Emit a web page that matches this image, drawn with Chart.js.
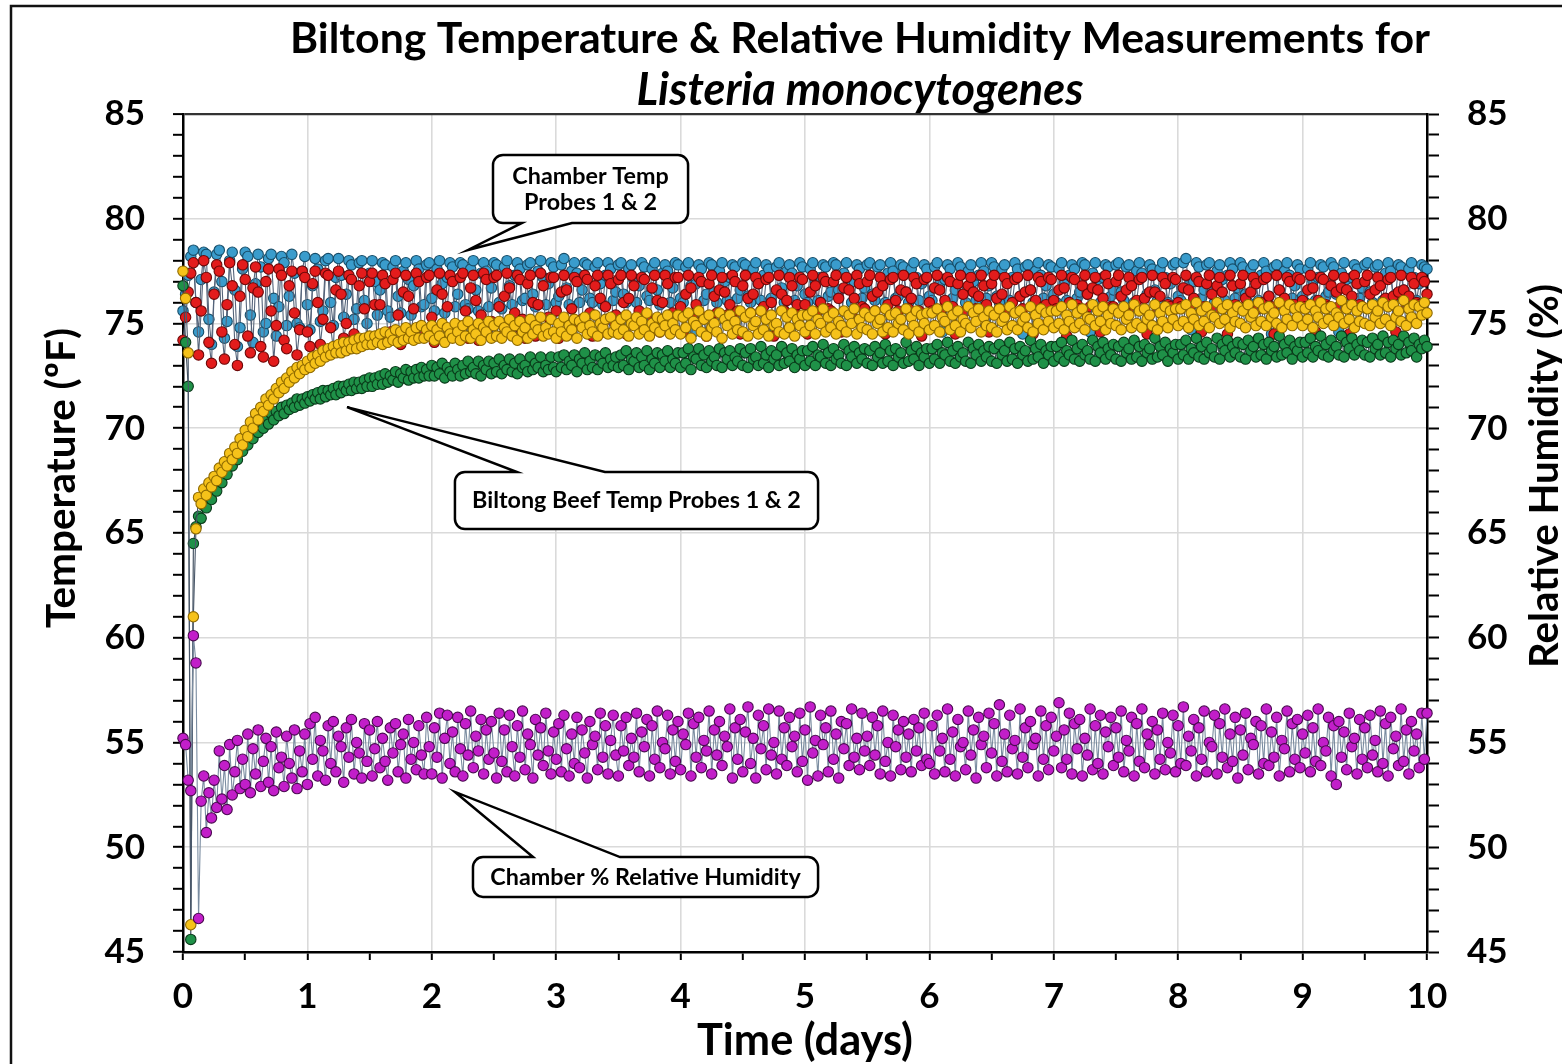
<!DOCTYPE html>
<html>
<head>
<meta charset="utf-8">
<script src="https://cdn.jsdelivr.net/npm/chart.js@4.4.1/dist/chart.umd.min.js"></script>
<style>
  html, body { margin: 0; padding: 0; background: #fff; }
  #wrap { width: 1562px; height: 1064px; position: relative; }
</style>
</head>
<body>
<div id="wrap"><canvas id="c" width="1562" height="1064"></canvas></div>
<script>
// ---------------- DATA (samples every 30 min, t = index / 48 days) ----------------
const SAMPLE_INTERVAL_DAYS = 1 / 48;
const dayTicks = [0, 1, 2, 3, 4, 5, 6, 7, 8, 9, 10];
const tempTicks = [45, 50, 55, 60, 65, 70, 75, 80, 85];

const chamberProbe1 = [
  75.6,76.4,77.3,78.2,78.5,76.0,74.6,77.1,78.4,78.3,75.2,74.0,76.5,78.3,78.5,77.0,74.3,75.1,78.0,78.4,76.6,73.9,74.8,77.6,
  78.4,78.2,75.4,74.1,76.9,78.3,77.7,74.6,75.0,78.1,78.3,76.2,74.4,75.8,78.2,77.9,74.9,76.3,78.3,77.4,75.0,74.8,77.5,78.2,
  75.9,74.7,76.8,78.1,77.6,75.1,75.6,78.0,78.1,76.0,74.9,77.2,78.1,77.3,75.3,76.4,78.0,77.8,75.2,75.7,77.9,78.0,76.1,75.0,
  77.4,78.0,77.0,75.4,76.6,77.9,77.8,75.6,75.3,77.7,78.0,76.3,75.5,77.5,77.9,77.1,75.4,76.8,78.0,77.6,75.8,75.9,77.8,77.9,
  76.2,75.6,77.6,78.0,76.9,75.5,77.2,77.9,77.7,75.8,76.4,77.9,77.8,75.9,75.7,77.6,78.0,76.6,75.6,77.4,77.9,77.5,75.8,76.7,
  77.9,77.8,76.0,75.7,77.7,78.0,76.8,75.9,77.3,77.9,77.6,76.1,76.2,77.8,77.9,76.4,75.8,77.5,78.0,77.2,75.9,76.9,77.9,77.7,
  76.0,76.3,77.8,78.1,76.7,75.9,77.5,77.9,77.4,76.0,76.6,77.9,77.8,76.2,76.0,77.7,77.9,76.9,75.9,77.3,77.9,77.6,76.1,76.5,
  77.8,77.9,76.4,76.0,77.6,77.8,77.1,76.0,76.8,77.9,77.7,76.3,76.1,77.6,77.9,76.6,75.9,77.4,77.8,77.5,76.0,76.7,77.9,77.8,
  76.2,76.0,77.7,77.9,76.8,74.6,76.9,77.8,77.6,76.1,76.4,77.9,77.8,76.5,76.0,77.5,77.9,77.0,76.1,77.2,77.8,77.7,76.2,76.6,
  77.9,77.8,76.3,76.0,77.6,77.9,76.9,76.1,77.3,77.8,77.6,76.2,74.5,77.7,77.9,76.7,76.0,77.5,77.8,77.4,76.1,76.8,77.9,77.7,
  76.4,76.0,77.6,77.9,77.0,76.1,77.2,77.8,77.7,76.3,76.5,77.9,77.8,76.6,74.7,77.4,77.9,77.1,76.0,77.0,77.8,77.6,76.2,76.7,
  77.8,77.9,76.4,76.1,77.7,77.8,76.8,76.0,77.4,77.9,77.5,76.2,76.3,77.8,77.7,76.5,76.0,77.6,77.9,77.2,76.1,76.9,77.8,77.6,
  76.3,76.1,77.7,77.9,76.9,74.6,77.1,77.8,77.6,76.2,76.6,77.9,77.7,76.4,76.0,77.5,77.8,77.0,76.1,77.3,77.9,77.5,76.2,76.8,
  77.9,77.7,76.3,76.0,77.6,77.8,77.0,76.1,77.2,77.9,77.6,76.3,74.5,77.7,77.8,76.6,76.0,77.5,77.9,77.3,76.2,76.8,77.8,77.7,
  76.4,76.0,77.6,77.9,76.9,76.1,77.3,77.8,77.6,76.2,76.5,77.9,77.8,76.4,74.6,77.4,77.9,77.1,76.0,77.2,77.8,77.7,76.3,76.6,
  77.8,77.9,76.5,76.1,77.7,77.8,76.8,76.0,77.5,77.9,77.4,76.2,76.4,77.8,77.6,76.6,76.1,77.6,77.9,77.2,76.0,76.9,77.8,77.9,
  76.3,76.1,77.9,78.1,76.8,74.7,77.0,77.9,77.7,76.2,76.6,77.8,77.9,76.5,76.0,77.5,77.8,77.1,76.1,77.3,77.9,77.6,76.2,76.7,
  77.9,77.7,76.4,76.0,77.6,77.8,76.9,76.1,77.3,77.9,77.5,76.3,74.5,77.7,77.8,76.6,76.0,77.5,77.9,77.3,76.2,76.8,77.8,77.6,
  76.3,76.0,77.6,77.9,77.0,76.1,77.2,77.8,77.7,76.3,76.5,77.9,77.7,76.4,74.6,77.4,77.9,77.1,76.0,77.2,77.8,77.6,76.2,76.7,
  77.8,77.9,76.5,76.0,77.7,77.8,76.8,76.1,77.4,77.9,77.5,76.2,76.4,77.8,77.7,76.6,76.0,77.6,77.9,77.2,76.1,76.9,77.8,77.7,
  77.6
];

const chamberProbe2 = [
  74.2,75.3,76.5,77.4,77.9,76.0,73.5,75.6,78.0,77.2,74.1,73.1,76.4,77.8,77.5,74.6,73.3,75.9,77.9,76.8,74.0,73.0,76.3,77.8,
  77.1,74.4,73.6,76.7,77.7,76.5,73.9,73.4,77.0,77.6,75.6,73.2,74.9,77.6,77.3,74.2,73.8,76.8,77.5,75.5,73.5,74.7,77.5,77.2,
  74.6,73.9,76.9,77.5,76.0,74.0,75.2,77.4,77.3,74.8,73.8,76.6,77.5,76.4,74.3,75.0,77.3,77.1,74.5,74.1,76.8,77.4,75.7,74.2,
  77.0,77.4,75.9,74.2,75.9,77.3,76.9,74.4,74.6,77.1,77.4,75.4,74.0,76.5,77.3,76.3,74.3,75.7,77.4,77.0,74.7,74.5,77.2,77.3,
  75.3,74.1,76.6,77.4,76.4,74.2,75.8,77.3,77.0,74.6,74.9,77.2,77.4,75.6,74.3,76.7,77.3,76.1,74.2,75.4,77.4,77.1,74.8,75.1,
  77.2,77.3,75.8,74.4,76.3,77.4,76.7,74.5,75.5,77.3,77.1,75.2,74.3,76.9,77.3,76.0,74.4,75.9,77.4,76.8,74.6,75.3,77.2,77.2,
  75.6,74.3,76.5,77.3,76.6,74.5,75.7,77.2,77.0,75.0,75.2,77.3,77.1,75.5,74.4,76.8,77.3,76.2,74.6,75.8,77.3,76.9,75.1,75.4,
  77.1,77.3,76.0,74.5,76.2,77.3,76.8,75.0,75.6,77.2,77.1,75.4,74.5,76.7,77.3,76.1,74.6,76.0,77.3,76.9,75.0,75.5,77.2,77.2,
  75.8,74.6,76.4,77.3,76.7,75.2,75.9,77.2,77.0,75.3,74.4,76.9,77.3,76.3,75.5,76.6,77.2,76.5,75.4,75.9,77.3,77.0,75.6,74.5,
  76.8,77.3,76.2,75.5,76.4,77.2,76.9,75.6,75.8,77.1,77.2,76.0,74.4,76.6,77.3,76.4,75.6,76.1,77.2,76.8,75.5,75.9,77.2,77.1,
  75.9,74.5,76.5,77.3,76.8,75.6,76.0,77.2,77.0,75.7,75.6,77.0,77.3,76.2,74.6,76.7,77.2,76.6,75.5,76.2,77.3,76.9,75.8,75.7,
  77.0,77.3,76.3,75.6,76.5,77.2,76.8,74.5,75.9,77.1,77.2,76.1,75.6,76.6,77.3,76.5,75.7,76.2,77.2,76.9,75.6,74.4,77.1,77.2,
  76.0,75.6,76.7,77.3,76.6,75.7,76.1,77.2,77.0,75.8,74.5,76.9,77.3,76.4,75.6,76.8,77.2,76.5,75.7,76.3,77.3,76.8,75.9,74.6,
  76.9,77.3,76.2,75.7,76.4,77.2,76.9,75.6,76.0,77.1,77.2,76.3,75.7,76.5,77.3,76.6,74.5,76.1,77.2,77.0,75.8,75.9,77.2,77.1,
  76.1,75.7,76.6,77.3,76.7,74.4,76.0,77.2,77.1,75.9,75.7,76.8,77.3,76.4,75.8,76.7,77.2,76.6,74.6,76.2,77.3,76.9,75.8,75.8,
  77.0,77.3,76.3,75.7,76.6,77.2,76.8,75.8,76.1,77.1,77.2,76.2,74.5,76.5,77.3,76.5,75.7,76.3,77.2,76.9,75.9,75.8,77.2,77.1,
  76.0,75.8,76.7,77.3,76.6,75.9,76.2,77.2,77.0,74.6,75.8,76.9,77.3,76.4,75.7,76.8,77.2,76.5,75.8,74.5,77.3,76.8,75.9,75.8,
  76.9,77.3,76.2,75.8,76.5,77.2,76.9,75.7,76.0,77.1,77.2,76.3,75.8,74.5,77.3,76.6,75.8,76.2,77.2,77.0,75.9,75.9,77.2,77.1,
  76.1,75.8,76.6,77.3,76.7,74.6,76.1,77.2,77.1,75.9,75.8,76.8,77.3,76.5,75.8,76.7,77.2,76.6,74.5,76.3,77.3,76.9,75.9,75.8,
  77.0,77.3,76.4,75.8,76.6,77.2,76.8,75.9,76.2,77.1,77.2,76.3,74.6,76.5,77.3,76.6,75.9,76.3,77.2,76.9,76.0,75.9,77.2,77.0,
  76.4
];

const beefProbe1 = [
  77.5,76.2,73.6,46.3,61.0,65.2,66.7,66.4,67.1,66.8,67.4,67.2,67.7,67.5,68.1,67.9,68.4,68.2,68.8,68.5,69.1,68.8,69.5,69.2,
  69.9,69.6,70.3,70.0,70.7,70.4,71.0,70.8,71.4,71.1,71.6,71.4,71.9,71.7,72.2,71.9,72.4,72.2,72.7,72.4,72.9,72.6,73.0,72.8,
  73.2,72.9,73.4,73.1,73.5,73.2,73.7,73.4,73.8,73.5,73.9,73.6,74.0,73.6,74.1,73.7,74.1,73.8,74.2,73.8,74.3,73.9,74.3,74.0,
  74.4,74.0,74.4,74.1,74.5,74.0,74.6,74.1,74.5,74.2,74.7,74.1,74.6,74.2,74.8,74.3,74.6,74.2,74.8,74.3,74.9,74.3,74.7,74.4,
  74.9,74.2,74.7,74.4,75.0,74.1,74.8,74.5,74.3,75.0,74.6,74.2,74.9,74.4,75.1,74.3,74.7,74.5,75.0,74.2,74.8,74.6,75.1,74.3,
  74.9,74.4,75.1,74.3,74.8,74.6,75.2,74.4,74.9,74.2,75.1,74.6,74.8,74.3,75.2,74.5,74.9,74.7,75.3,74.4,74.8,74.5,75.2,74.6,
  74.3,75.0,74.6,75.3,74.4,74.9,74.7,75.2,74.3,75.1,74.8,75.3,74.5,74.9,74.6,75.4,74.4,75.0,74.8,75.2,74.5,75.3,74.6,74.9,
  74.5,75.2,74.7,75.4,74.4,75.0,74.9,75.3,74.5,75.1,74.7,75.5,74.4,75.0,74.8,75.3,74.6,75.2,74.9,75.4,74.5,75.0,74.7,75.4,
  74.5,75.3,74.8,75.5,74.3,75.1,74.9,75.6,74.6,75.2,74.4,75.4,74.8,75.0,74.6,75.5,74.3,75.2,74.9,75.4,74.5,75.1,74.7,75.6,
  74.6,75.3,74.4,75.5,74.9,75.1,74.5,75.6,74.7,75.2,74.4,75.4,74.9,75.0,74.6,75.6,74.5,75.3,74.8,75.5,74.4,75.2,74.9,75.4,
  74.6,75.4,74.9,75.6,74.5,75.2,75.0,75.7,74.6,75.3,74.8,75.5,74.5,75.1,74.9,75.6,74.6,75.4,75.0,75.7,74.5,75.2,74.8,75.5,
  74.7,75.3,74.5,75.6,75.0,75.2,74.6,75.7,74.8,75.4,74.6,75.5,75.0,75.2,74.7,75.7,74.5,75.3,74.9,75.6,74.6,75.4,75.0,75.5,
  74.7,75.5,74.9,75.7,74.6,75.3,75.1,75.8,74.7,75.4,74.9,75.6,74.6,75.2,75.0,75.8,74.8,75.5,75.1,75.7,74.6,75.3,74.9,75.6,
  74.8,75.4,74.6,75.7,75.1,75.3,74.7,75.8,74.9,75.5,74.7,75.6,75.1,75.3,74.8,75.8,74.6,75.4,75.0,75.7,74.7,75.5,75.1,75.6,
  74.8,75.6,75.0,75.8,74.7,75.4,75.1,75.9,74.8,75.5,75.0,75.7,74.7,75.3,75.2,75.9,74.9,75.6,75.1,75.8,74.7,75.4,75.0,75.7,
  74.9,75.5,74.7,75.8,75.2,75.4,74.8,75.9,75.0,75.6,74.8,75.7,75.2,75.4,74.9,75.9,74.7,75.5,75.1,75.8,74.8,75.6,75.2,75.7,
  74.9,75.7,75.1,75.9,74.8,75.5,75.2,76.0,74.9,75.6,75.1,75.8,74.8,75.4,75.3,76.0,75.0,75.7,75.2,75.9,74.8,75.5,75.1,75.8,
  75.0,75.6,74.8,75.9,75.3,75.5,74.9,76.0,75.1,75.7,74.9,75.8,75.3,75.5,75.0,76.0,74.8,75.6,75.2,75.9,74.9,75.7,75.3,75.8,
  74.9,75.7,75.2,75.9,74.8,75.6,75.3,76.0,75.0,75.7,75.2,75.8,74.9,75.5,75.3,76.1,75.0,75.7,75.2,75.9,74.8,75.6,75.1,75.8,
  75.0,75.7,74.9,75.9,75.3,75.6,75.0,76.0,75.2,75.8,74.9,75.9,75.3,75.6,75.1,76.1,74.9,75.7,75.3,75.9,75.0,75.8,75.4,76.0,
  75.5
];

const beefProbe2 = [
  76.8,74.1,72.0,45.6,64.5,65.3,65.8,65.7,66.3,66.2,66.8,66.6,67.2,67.0,67.6,67.4,68.0,67.8,68.4,68.2,68.7,68.5,69.1,68.9,
  69.4,69.2,69.7,69.5,70.0,69.8,70.2,70.0,70.5,70.2,70.7,70.4,70.8,70.6,71.0,70.7,71.1,70.9,71.2,71.0,71.4,71.1,71.4,71.2,
  71.5,71.3,71.6,71.4,71.7,71.4,71.8,71.5,71.8,71.6,71.9,71.6,72.0,71.7,72.0,71.8,72.1,71.8,72.2,71.9,72.2,71.9,72.3,72.0,
  72.4,72.0,72.4,72.1,72.5,72.1,72.6,72.2,72.5,72.3,72.7,72.2,72.6,72.4,72.8,72.3,72.7,72.4,72.8,72.4,72.9,72.5,72.8,72.5,
  73.0,72.5,72.9,72.6,73.1,72.4,72.9,72.7,72.5,73.1,72.8,72.5,73.0,72.6,73.2,72.7,72.9,72.6,73.2,72.5,73.0,72.8,73.2,72.6,
  73.1,72.7,73.3,72.6,73.0,72.8,73.3,72.7,73.1,72.6,73.3,72.9,73.0,72.7,73.4,72.8,73.1,72.9,73.4,72.7,73.0,72.8,73.4,72.9,
  72.7,73.4,72.9,73.5,72.8,73.2,73.0,73.5,72.7,73.3,73.1,73.6,72.8,73.2,72.9,73.5,72.8,73.4,73.1,73.6,72.9,73.3,73.0,73.4,
  72.9,73.5,73.0,73.7,72.8,73.3,73.2,73.6,72.9,73.4,73.0,73.7,72.8,73.3,73.1,73.6,72.9,73.5,73.2,73.7,72.9,73.3,73.1,73.6,
  72.9,73.6,73.1,73.8,72.8,73.4,73.3,73.8,73.0,73.5,72.9,73.7,73.2,73.4,73.0,73.8,72.9,73.6,73.3,73.7,73.0,73.4,73.2,73.8,
  73.0,73.6,72.9,73.8,73.3,73.4,73.0,73.9,73.1,73.5,72.9,73.7,73.3,73.5,73.0,73.9,73.1,73.6,73.2,73.8,72.9,73.5,73.3,73.7,
  73.0,73.7,73.2,73.9,73.0,73.5,73.4,74.0,73.1,73.6,73.0,73.8,73.3,73.5,73.1,74.0,73.0,73.7,73.4,73.9,73.1,73.6,73.3,73.8,
  73.1,73.7,73.0,73.9,73.4,73.6,73.1,74.0,73.2,73.7,73.0,73.8,73.4,73.6,73.1,74.1,73.2,73.7,73.3,73.9,73.0,73.6,73.4,73.8,
  73.1,73.8,73.3,74.0,73.1,73.6,73.5,74.1,73.2,73.7,73.1,73.9,73.4,73.6,73.2,74.1,73.1,73.8,73.5,74.0,73.2,73.7,73.4,73.9,
  73.2,73.8,73.1,74.0,73.5,73.7,73.2,74.1,73.3,73.8,73.1,73.9,73.5,73.7,73.2,74.2,73.3,73.8,73.4,74.0,73.1,73.7,73.5,73.9,
  73.2,73.9,73.4,74.1,73.2,73.7,73.5,74.2,73.3,73.8,73.2,74.0,73.5,73.7,73.3,74.2,73.2,73.9,73.6,74.1,73.3,73.8,73.5,74.0,
  73.3,73.9,73.2,74.1,73.6,73.8,73.3,74.2,73.4,73.9,73.2,74.0,73.6,73.8,73.3,74.3,73.4,73.9,73.5,74.1,73.2,73.8,73.6,74.0,
  73.3,74.0,73.5,74.2,73.3,73.8,73.6,74.3,73.4,73.9,73.3,74.1,73.6,73.8,73.4,74.3,73.3,74.0,73.7,74.2,73.4,73.9,73.6,74.1,
  73.4,74.0,73.3,74.2,73.7,73.9,73.4,74.3,73.5,74.0,73.3,74.1,73.7,73.9,73.4,74.4,73.5,74.0,73.6,74.2,73.3,73.9,73.7,74.1,
  73.4,74.1,73.6,74.3,73.4,73.9,73.7,74.4,73.5,74.0,73.4,74.2,73.7,73.9,73.5,74.4,73.4,74.1,73.8,74.3,73.5,74.0,73.7,74.2,
  73.5,74.1,73.4,74.3,73.8,74.0,73.5,74.4,73.6,74.1,73.4,74.2,73.8,74.0,73.5,74.4,73.6,74.1,73.7,74.3,73.4,74.0,73.8,74.2,
  73.9
];

const chamberRH = [
  55.2,54.9,53.2,52.7,60.1,58.8,46.6,52.2,53.4,50.7,52.6,51.4,53.2,51.9,54.6,52.3,53.9,51.8,54.9,52.5,53.6,55.1,52.8,54.2,
  53.0,55.4,52.6,54.7,53.5,55.6,52.9,54.1,55.2,53.1,54.8,52.7,55.5,53.8,54.3,52.9,55.3,54.0,53.3,55.6,52.8,54.6,53.6,55.4,
  53.0,55.9,54.2,56.2,53.4,55.1,54.6,53.2,55.8,54.0,56.0,53.6,55.3,54.8,53.1,55.7,54.3,56.1,53.5,55.0,54.5,53.3,55.9,54.1,
  55.6,53.4,54.7,56.0,53.8,55.2,54.1,53.2,55.7,54.5,55.9,53.6,54.9,55.4,53.3,56.1,54.2,55.0,53.7,55.8,54.4,53.5,56.2,54.8,
  53.5,55.7,54.3,56.4,53.3,55.2,56.3,54.0,55.5,53.6,56.2,54.7,53.4,55.9,54.4,56.5,53.8,55.3,54.6,56.1,53.5,55.6,54.2,56.0,
  54.5,53.3,56.4,54.1,55.6,53.6,56.3,54.8,53.4,55.8,54.3,56.5,53.7,55.4,54.9,53.3,56.1,54.4,55.7,53.9,56.4,54.6,53.5,55.5,
  54.2,55.9,53.6,56.3,54.7,53.4,55.4,54.0,56.2,53.8,55.6,54.5,53.3,56.0,54.9,55.3,53.7,56.4,54.3,55.8,53.5,55.1,56.3,54.4,
  53.4,55.8,54.6,56.2,53.9,55.2,54.3,56.4,53.6,55.5,54.8,56.1,53.4,55.8,54.2,56.5,53.8,55.0,54.7,56.3,53.5,55.6,54.1,56.0,
  53.7,55.4,54.9,56.4,53.4,55.9,54.3,56.2,53.8,55.1,54.6,56.5,53.5,55.6,54.4,56.0,53.9,55.3,54.8,56.6,53.3,55.7,54.2,56.1,
  53.6,55.5,56.7,54.0,55.2,53.3,56.3,54.7,55.8,53.7,56.6,54.4,55.0,53.5,56.5,54.2,55.7,53.9,56.2,54.8,55.3,53.6,56.4,54.1,
  55.6,53.2,56.7,54.5,55.1,53.4,56.3,54.9,55.7,53.6,56.5,54.2,55.4,53.3,56.0,54.7,55.9,53.9,56.6,54.3,55.2,53.7,56.4,54.6,
  55.3,53.9,56.2,54.4,55.8,53.5,56.5,54.1,55.0,53.4,56.3,54.8,55.6,53.7,56.0,54.3,55.4,53.6,56.1,54.6,55.7,53.9,56.4,54.2,
  54.0,55.8,53.5,56.3,54.6,55.2,53.6,56.6,54.2,55.5,53.4,56.1,54.8,55.0,53.7,56.5,54.4,55.6,53.3,56.2,54.9,55.3,53.8,56.4,
  54.5,55.9,53.4,56.8,54.1,55.4,53.6,56.3,54.7,55.1,53.5,56.6,54.3,55.7,53.8,56.0,54.9,55.2,53.4,56.5,54.2,55.8,53.7,56.2,
  54.6,55.3,56.9,53.8,55.6,54.2,56.4,53.5,55.9,54.7,56.1,53.4,55.2,54.4,56.6,53.7,55.8,54.0,56.3,53.5,55.5,54.8,56.2,53.9,
  55.7,54.3,56.5,53.6,55.1,54.6,56.2,53.4,55.9,54.1,56.6,53.8,55.4,54.9,56.0,53.5,55.6,54.2,56.4,53.7,55.0,54.5,56.3,53.6,
  55.8,54.0,56.7,53.9,55.3,54.6,56.1,53.4,55.7,54.2,56.5,53.6,55.0,54.8,56.3,53.5,55.9,54.3,56.6,53.8,55.4,54.1,56.2,53.3,
  55.6,54.4,56.4,53.7,55.2,54.9,56.0,53.5,55.8,54.0,56.6,53.9,55.5,54.3,56.2,53.4,55.1,54.7,56.5,53.6,55.9,54.2,56.1,53.8,
  55.4,54.5,56.3,53.6,55.7,54.1,56.6,53.9,55.0,54.6,56.2,53.4,55.8,53.0,56.0,54.3,55.5,53.7,56.4,54.8,55.2,53.5,56.1,54.2,
  55.7,53.8,56.3,54.4,55.1,53.6,56.5,54.0,55.9,53.4,56.2,54.7,55.3,53.9,56.6,54.1,55.6,53.5,56.0,54.6,55.4,53.8,56.4,54.2,
  56.4
];

// Callouts: box [left day, right day, top value, bottom value], pointer base (days) and tip (day, value)
const callouts = [
  { lines: ["Chamber Temp", "Probes 1 & 2"], box: [2.492, 4.060, 83.04, 79.80], side: "bottom", base: [2.725, 3.127], tip: [2.291, 78.51] },
  { lines: ["Biltong Beef Temp Probes 1 & 2"], box: [2.186, 5.105, 67.91, 65.19], side: "top", base: [2.685, 3.392], tip: [1.318, 71.01] },
  { lines: ["Chamber % Relative Humidity"], box: [2.331, 5.105, 49.53, 47.63], side: "top", base: [2.814, 3.513], tip: [2.186, 52.64] }
];

// ---------------- CHART ----------------
const toXY = arr => arr.map((v, i) => ({ x: i * SAMPLE_INTERVAL_DAYS, y: v }));
const FONT = "Lato";
const isInt = v => Math.abs(v - Math.round(v)) < 1e-6;

function series(label, arr, fill, border, line) {
  return {
    label, data: toXY(arr),
    borderColor: line, borderWidth: 1.1,
    pointRadius: 5.2, pointBorderWidth: 1.1,
    pointBackgroundColor: fill, pointBorderColor: border,
    pointHoverRadius: 5.2, tension: 0, clip: false, yAxisID: 'y'
  };
}

function fitSize(ctx, text, prefix, target) {
  ctx.font = prefix + " 100px " + FONT;
  return 100 * target / ctx.measureText(text).width;
}

const decor = {
  id: 'decor',
  beforeDraw(chart) {
    const ctx = chart.ctx;
    ctx.save();
    ctx.fillStyle = '#fff';
    ctx.fillRect(0, 0, chart.width, chart.height);
    ctx.strokeStyle = '#111';
    ctx.lineWidth = 2.5;
    ctx.strokeRect(11, 6, 1600, 1100);
    ctx.restore();
  },
  afterDraw(chart) {
    const ctx = chart.ctx;
    const xs = chart.scales.x, ys = chart.scales.y;
    ctx.save();
    ctx.fillStyle = '#000';
    ctx.textAlign = 'center';
    ctx.textBaseline = 'middle';
    let s = fitSize(ctx, "Biltong Temperature & Relative Humidity Measurements for", "bold", 1140);
    ctx.font = "bold " + s + "px " + FONT;
    ctx.fillText("Biltong Temperature & Relative Humidity Measurements for", 860, 39);
    s = fitSize(ctx, "Listeria monocytogenes", "italic bold", 447);
    ctx.font = "italic bold " + s + "px " + FONT;
    ctx.fillText("Listeria monocytogenes", 860, 90);
    s = fitSize(ctx, "Time (days)", "bold", 216);
    ctx.font = "bold " + s + "px " + FONT;
    ctx.fillText("Time (days)", 805, 1041);
    s = fitSize(ctx, "Temperature (ºF)", "bold", 300);
    ctx.save();
    ctx.translate(62, 478);
    ctx.rotate(-Math.PI / 2);
    ctx.font = "bold " + s + "px " + FONT;
    ctx.fillText("Temperature (ºF)", 0, 0);
    ctx.restore();
    s = fitSize(ctx, "Relative Humidity (%)", "bold", 384);
    ctx.save();
    ctx.translate(1545, 476);
    ctx.rotate(-Math.PI / 2);
    ctx.font = "bold " + s + "px " + FONT;
    ctx.fillText("Relative Humidity (%)", 0, 0);
    ctx.restore();

    const cs = fitSize(ctx, "Biltong Beef Temp Probes 1 & 2", "bold", 329);
    callouts.forEach(c => {
      const L = xs.getPixelForValue(c.box[0]), R = xs.getPixelForValue(c.box[1]);
      const T = ys.getPixelForValue(c.box[2]), B = ys.getPixelForValue(c.box[3]);
      const b1 = xs.getPixelForValue(c.base[0]), b2 = xs.getPixelForValue(c.base[1]);
      const tx = xs.getPixelForValue(c.tip[0]), ty = ys.getPixelForValue(c.tip[1]);
      const r = 10;
      ctx.beginPath();
      ctx.moveTo(L + r, T);
      if (c.side === 'top') { ctx.lineTo(b1, T); ctx.lineTo(tx, ty); ctx.lineTo(b2, T); }
      ctx.lineTo(R - r, T);
      ctx.arcTo(R, T, R, T + r, r);
      ctx.lineTo(R, B - r);
      ctx.arcTo(R, B, R - r, B, r);
      if (c.side === 'bottom') { ctx.lineTo(b2, B); ctx.lineTo(tx, ty); ctx.lineTo(b1, B); }
      ctx.lineTo(L + r, B);
      ctx.arcTo(L, B, L, B - r, r);
      ctx.lineTo(L, T + r);
      ctx.arcTo(L, T, L + r, T, r);
      ctx.closePath();
      ctx.fillStyle = '#fff';
      ctx.fill();
      ctx.lineWidth = 2.5;
      ctx.strokeStyle = '#000';
      ctx.stroke();
      ctx.fillStyle = '#000';
      ctx.font = "bold " + cs + "px " + FONT;
      const lh = 26;
      const cx = (L + R) / 2, cy = (T + B) / 2;
      c.lines.forEach((t, i) => {
        ctx.fillText(t, cx, cy + (i - (c.lines.length - 1) / 2) * lh);
      });
    });
    ctx.restore();
  }
};

const tickFont = { family: FONT, weight: 'bold', size: 35 };

new Chart(document.getElementById('c'), {
  type: 'line',
  data: {
    datasets: [
      series('Chamber % Relative Humidity', chamberRH, '#c21ec9', '#4a0a50', '#7a8ca0'),
      series('Biltong Beef Temp Probe 1', beefProbe1, '#f6c21a', '#8f6a00', '#4a586a'),
      series('Biltong Beef Temp Probe 2', beefProbe2, '#1f9148', '#0a3a1a', '#3c4a5a'),
      series('Chamber Temp Probe 2', chamberProbe2, '#e31c1c', '#6e0808', '#55647a'),
      series('Chamber Temp Probe 1', chamberProbe1, '#3a9ccc', '#174e6a', '#55647a')
    ]
  },
  options: {
    responsive: false,
    animation: false,
    events: [],
    layout: { padding: { top: 114, left: 0, right: 0, bottom: 0 } },
    plugins: { legend: { display: false }, title: { display: false }, tooltip: { enabled: false } },
    scales: {
      x: {
        type: 'linear', min: 0, max: 10,
        afterFit: s => { s.height = 112; },
        ticks: {
          stepSize: 0.5, autoSkip: false, maxRotation: 0, padding: 16,
          color: '#000', font: tickFont,
          callback: v => (isInt(v) && dayTicks.includes(Math.round(v))) ? String(Math.round(v)) : ''
        },
        grid: {
          color: c => (c.tick && isInt(c.tick.value) && c.tick.value > 0 && c.tick.value < 10) ? '#dadada' : 'rgba(0,0,0,0)',
          lineWidth: 1.6, tickLength: 8, tickColor: '#000', tickWidth: 2
        },
        border: { display: true, color: '#000', width: 2.5 }
      },
      y: {
        type: 'linear', position: 'left', min: 45, max: 85,
        afterFit: s => { s.width = 183; },
        ticks: {
          stepSize: 1, autoSkip: false, padding: 28, color: '#000', font: tickFont,
          callback: v => tempTicks.includes(v) ? String(v) : ''
        },
        grid: {
          color: c => {
            const v = c.tick ? c.tick.value : 0;
            if (v === 85) return '#333';
            return (v % 5 === 0 && v > 45) ? '#dadada' : 'rgba(0,0,0,0)';
          },
          lineWidth: c => (c.tick && c.tick.value === 85) ? 2.2 : 1.6,
          tickLength: 10, tickColor: '#000', tickWidth: 2
        },
        border: { display: true, color: '#000', width: 2.5 }
      },
      y2: {
        type: 'linear', position: 'right', min: 45, max: 85,
        afterFit: s => { s.width = 135; },
        ticks: {
          stepSize: 1, autoSkip: false, padding: 28, color: '#000', font: tickFont,
          callback: v => tempTicks.includes(v) ? String(v) : ''
        },
        grid: { drawOnChartArea: false, tickLength: 12, tickColor: '#000', tickWidth: 2 },
        border: { display: true, color: '#000', width: 2.5 }
      }
    }
  },
  plugins: [decor]
});
</script>
</body>
</html>
